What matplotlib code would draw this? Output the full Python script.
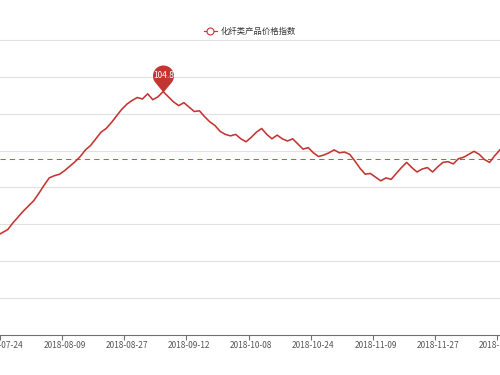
import numpy as np
import pandas as pd
import matplotlib
matplotlib.use("Agg")
import matplotlib.pyplot as plt
from matplotlib.path import Path
from matplotlib.lines import Line2D

plt.rcParams['font.family'] = ['Noto Sans CJK SC', 'DejaVu Sans']

# trading days (China), 2018-07-23 .. 2018-12-13
holidays = pd.to_datetime(["2018-09-24", "2018-10-01", "2018-10-02",
                           "2018-10-03", "2018-10-04", "2018-10-05"])
days = pd.bdate_range("2018-07-23", "2018-12-13")
dates = [d.strftime("%Y-%m-%d") for d in days if d not in holidays]

series_name = "化纤类产品价格指数"
values = [102.85, 102.89, 102.93, 103.02, 103.10, 103.18, 103.25, 103.32, 103.42, 103.53,
          103.63, 103.66, 103.68, 103.73, 103.79, 103.85, 103.92, 104.01, 104.07, 104.16,
          104.25, 104.30, 104.38, 104.47, 104.56, 104.63, 104.68, 104.72, 104.70, 104.77,
          104.69, 104.73, 104.80, 104.73, 104.66, 104.61, 104.65, 104.59, 104.53, 104.54,
          104.46, 104.39, 104.34, 104.26, 104.22, 104.20, 104.22, 104.16, 104.12, 104.18,
          104.25, 104.30, 104.22, 104.16, 104.21, 104.16, 104.13, 104.16, 104.09, 104.02,
          104.04, 103.97, 103.92, 103.94, 103.97, 104.01, 103.97, 103.98, 103.95, 103.86,
          103.76, 103.68, 103.69, 103.64, 103.59, 103.63, 103.61, 103.69, 103.77, 103.84,
          103.77, 103.71, 103.75, 103.77, 103.71, 103.78, 103.84, 103.85, 103.82, 103.89,
          103.91, 103.95, 103.99, 103.95, 103.88, 103.84, 103.93, 104.01]
avg_value = 103.88  # markLine (average over the full series)
y_grid = [102.0, 102.5, 103.0, 103.5, 104.0, 104.5, 105.0, 105.5]

RED = "#c23531"
GREY = "#6e7079"


def pin_path():
    """ECharts style pin, tip at (0, 0)."""
    cy, r = 16.5, 10.5
    a = np.degrees(np.arcsin(r / cy))
    start = -90 + (90 - a)
    t = np.radians(np.linspace(start, start + 360 - 2 * (90 - a), 40))
    verts = [(0, 0)] + [(r * np.cos(v), cy + r * np.sin(v)) for v in t] + [(0, 0)]
    return Path(verts, closed=True), cy + r


x = np.arange(len(values))
fig = plt.figure(figsize=(5, 3.75), dpi=100)
ax = fig.add_axes([0, 0.1067, 1, 0.7867])

for g in y_grid:
    ax.axhline(g, color="#e0e0e0", lw=0.8, zorder=0, clip_on=False)

ax.plot(x, values, color=RED, lw=1.15, zorder=3)
ax.axhline(avg_value, color="#d4504c", lw=0.75, ls=(0, (5, 4)), zorder=2)

# max mark point
imax = int(np.argmax(values))
path, top = pin_path()
ax.plot(imax, values[imax], marker=path, markersize=2 * top / 1.389,
        color=RED, markeredgewidth=0, zorder=4)
ax.annotate(f"{values[imax]:.1f}", (imax, values[imax]), xytext=(0, 16.5),
            textcoords="offset pixels", ha="center", va="center",
            color="white", fontsize=6, zorder=5)

ax.set_xlim(0.77, 97.02)
ax.set_ylim(101.5, 105.5)

lab_idx = list(range(1, len(dates), 12))
ax.set_xticks(lab_idx)
ax.set_xticklabels([dates[i] for i in lab_idx])
ax.set_xticks([i - 0.5 for i in lab_idx], minor=True)
ax.tick_params(axis="x", which="major", length=0, pad=4, labelsize=6, labelcolor="#555555")
ax.tick_params(axis="x", which="minor", length=3.5, width=0.8, color=GREY)
ax.set_yticks([])
for s in ["top", "right", "left"]:
    ax.spines[s].set_visible(False)
ax.spines["bottom"].set_color(GREY)
ax.spines["bottom"].set_linewidth(0.8)

handle = Line2D([], [], color=RED, lw=0.8, marker="o", markersize=5,
                markerfacecolor="white", markeredgecolor=RED, markeredgewidth=0.8)
fig.legend([handle], [series_name], loc="center", bbox_to_anchor=(0.5, 1 - 31 / 375),
           frameon=False, fontsize=6, handlelength=1.6, handletextpad=0.5,
           labelcolor="#333333")

fig.savefig("out.png", dpi=100)
